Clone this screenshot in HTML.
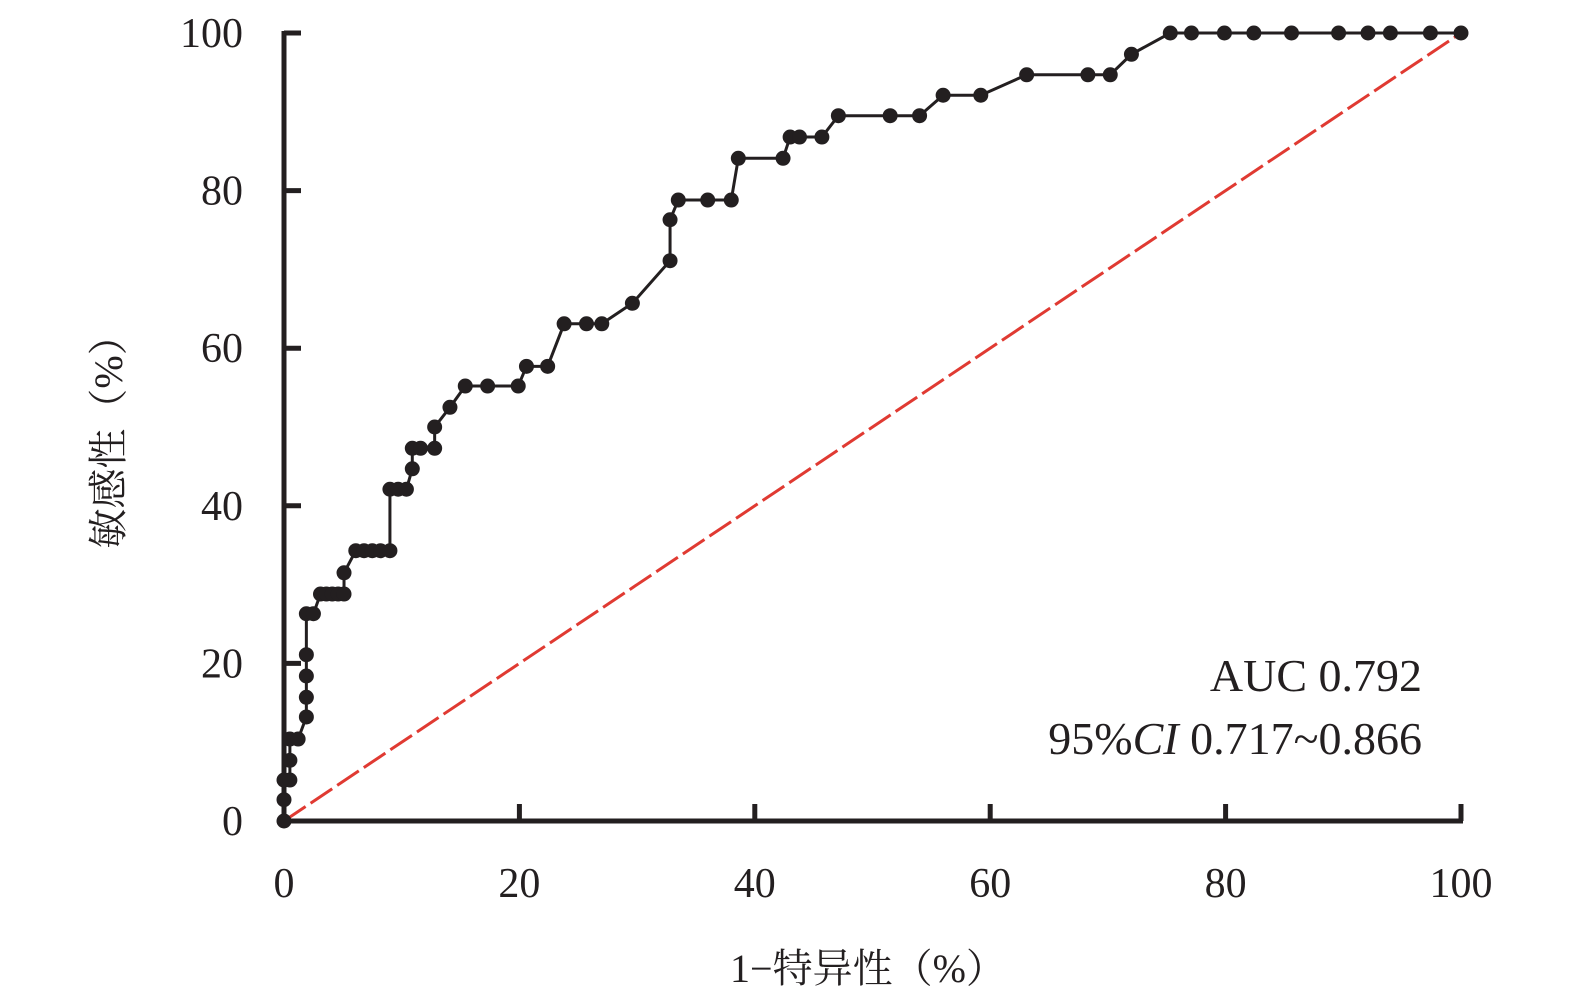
<!DOCTYPE html>
<html><head><meta charset="utf-8">
<style>
html,body{margin:0;padding:0;background:#fff;}
svg{display:block;}
text{font-family:"Liberation Serif","Noto Serif CJK SC",serif;fill:#231f20;}
</style></head>
<body>
<svg id="chart" width="1575" height="1008" viewBox="0 0 1575 1008" xmlns="http://www.w3.org/2000/svg">
<g id="axes"></g>
<g id="series"></g>
<text transform="translate(122,432) rotate(-90)" text-anchor="middle" font-size="40">敏感性（%）</text>
<text x="868" y="982" text-anchor="middle" font-size="40">1−特异性（%）</text>
<text x="1422" y="691" text-anchor="end" font-size="46">AUC 0.792</text>
<text x="1422" y="754" text-anchor="end" font-size="46">95%<tspan font-style="italic">CI</tspan>  0.717~0.866</text>
</svg>
<script>
const fprValues = [0,0,0,0.5,0.5,0.5,1.2,1.9,1.9,1.9,1.9,1.9,2.5,3.1,3.6,4.1,4.6,5.1,5.1,6.1,6.8,7.5,8.2,9.0,9.0,9.7,10.4,10.9,10.9,11.6,12.8,12.8,14.1,15.4,17.3,19.9,20.6,22.4,23.8,25.7,27.0,29.6,32.8,32.8,33.5,36.0,38.0,38.6,42.4,43.0,43.8,45.7,47.1,51.5,54.0,56.0,59.2,63.1,68.3,70.2,72.0,75.3,77.1,79.9,82.4,85.6,89.6,92.1,94.0,97.4,100];
const tprValues = [0,2.7,5.2,5.2,7.7,10.4,10.4,13.2,15.7,18.4,21.1,26.3,26.3,28.8,28.8,28.8,28.8,28.8,31.5,34.3,34.3,34.3,34.3,34.3,42.1,42.1,42.1,44.7,47.3,47.3,47.3,50.0,52.5,55.2,55.2,55.2,57.7,57.7,63.1,63.1,63.1,65.7,71.1,76.3,78.8,78.8,78.8,84.1,84.1,86.8,86.8,86.8,89.5,89.5,89.5,92.1,92.1,94.7,94.7,94.7,97.3,100,100,100,100,100,100,100,100,100,100];
const xTicks = [0,20,40,60,80,100];
const yTicks = [0,20,40,60,80,100];

const X0=284, X1=1461, Y0=821, Y1=33;
const sx = v => X0 + (X1-X0)*v/100;
const sy = v => Y0 - (Y0-Y1)*v/100;
const NS="http://www.w3.org/2000/svg";
const axes=document.getElementById('axes');
const series=document.getElementById('series');
function mk(tag, attrs, parent){const e=document.createElementNS(NS,tag);for(const k in attrs)e.setAttribute(k,attrs[k]);parent.appendChild(e);return e;}

let xl=mk('line',{x1:X0-2,y1:Y0,x2:X1+2,y2:Y0,stroke:'#231f20','stroke-width':5},axes);


let yl=mk('line',{x1:X0,y1:Y0+2,x2:X0,y2:Y1-2,stroke:'#231f20','stroke-width':5},axes);



xTicks.forEach(t=>{
  let l=mk('line',{x1:sx(t),y1:Y0,x2:sx(t),y2:Y0-17,stroke:'#231f20','stroke-width':5},axes);
  
  
  let tx=mk('text',{x:sx(t),y:897,'text-anchor':'middle','font-size':42},axes);
  tx.textContent=t;
  
  
});
yTicks.forEach(t=>{
  let l=mk('line',{x1:X0,y1:sy(t),x2:X0+17,y2:sy(t),stroke:'#231f20','stroke-width':5},axes);
  
  
  let tx=mk('text',{x:243,y:sy(t)+14,'text-anchor':'end','font-size':42},axes);
  tx.textContent=t;
  
  
});

let ref=mk('line',{x1:sx(0),y1:sy(0),x2:sx(100),y2:sy(100),stroke:'#e03a32','stroke-width':3,'stroke-dasharray':'26 6'},series);



let pts=fprValues.map((v,i)=>sx(v)+','+sy(tprValues[i])).join(' ');
let pl=mk('polyline',{points:pts,fill:'none',stroke:'#231f20','stroke-width':3},series);


fprValues.forEach((v,i)=>{
  let c=mk('circle',{cx:sx(v),cy:sy(tprValues[i]),r:7.5,fill:'#231f20'},series);
  
  
});
</script>
</body></html>
